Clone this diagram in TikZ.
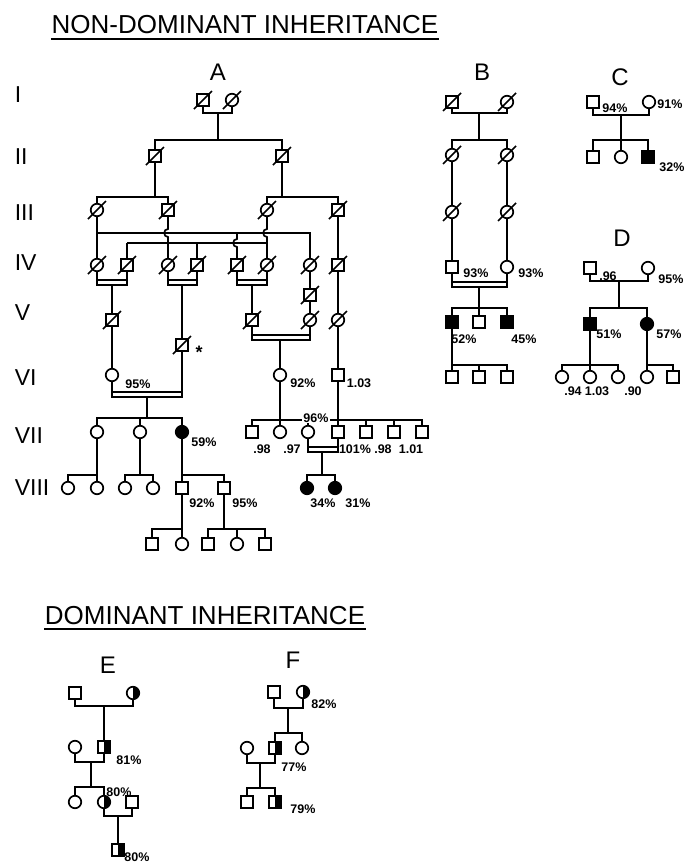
\documentclass[tikz,border=0pt]{standalone}
\usepackage{fontspec}
\setmainfont{Liberation Sans}
\usepackage{tikz}

\begin{document}
\begin{tikzpicture}[x=1pt, y=-1pt, line width=1.7pt,
    male/.style={draw, rectangle, minimum size=12.5pt, inner sep=0pt},
    female/.style={draw, circle, minimum size=12.5pt, inner sep=0pt},
    aff/.style={fill=black},
    half/.style={path picture={\fill (path picture bounding box.north) rectangle (path picture bounding box.south east);}},
    dead/.style={append after command={([shift={(-9,9)}]\tikzlastnode.center) edge ([shift={(9,-9)}]\tikzlastnode.center)}},
    lbl/.style={font=\fontsize{12.5}{12.5}\selectfont\bfseries, inner sep=0pt},
    gen/.style={font=\fontsize{23}{23}\selectfont, anchor=west, inner sep=0pt},
    ped/.style={font=\fontsize{24}{24}\selectfont, inner sep=0pt},
    ttl/.style={font=\fontsize{26}{26}\selectfont, anchor=base, inner sep=0pt}]
        \useasboundingbox (0,0) rectangle (687,865);

        % titles
        \node[ttl] (nd) at (245,33) {NON-DOMINANT INHERITANCE};
        \draw[line width=1.3pt] ([yshift=-6pt]nd.base west) -- ([yshift=-6pt]nd.base east);
        \node[ttl] (dom) at (205,624) {DOMINANT INHERITANCE};
        \draw[line width=1.3pt] ([yshift=-5pt]dom.base west) -- ([yshift=-5pt]dom.base east);

        % generations
        \node[gen] (g1) at (14,95) {I};
        \node[gen] (g2) at (14,157) {II};
        \node[gen] (g3) at (14,213) {III};
        \node[gen] (g4) at (14,263) {IV};
        \node[gen] (g5) at (14,313) {V};
        \node[gen] (g6) at (14,378) {VI};
        \node[gen] (g7) at (14,436) {VII};
        \node[gen] (g8) at (14,488) {VIII};

        % pedigree A
        \node[ped] (lA) at (218,72) {A};
        \node[male,dead] (A1m) at (203,100) {};
        \node[female,dead] (A1f) at (232,100) {};
        \node[male,dead] (A2a) at (155,156) {};
        \node[male,dead] (A2b) at (282,156) {};
        \node[female,dead] (A3a) at (97,210) {};
        \node[male,dead] (A3b) at (168,210) {};
        \node[female,dead] (A3c) at (267,210) {};
        \node[male,dead] (A3d) at (338,210) {};
        \node[female,dead] (A4a) at (97,265) {};
        \node[male,dead] (A4b) at (127,265) {};
        \node[female,dead] (A4c) at (168,265) {};
        \node[male,dead] (A4d) at (197,265) {};
        \node[male,dead] (A4e) at (237,265) {};
        \node[female,dead] (A4f) at (267,265) {};
        \node[female,dead] (A4g) at (310,265) {};
        \node[male,dead] (A4h) at (338,265) {};
        \node[male,dead] (A4i) at (310,295) {};
        \node[male,dead] (A5a) at (112,320) {};
        \node[male,dead] (A5b) at (182,345) {};
        \node[male,dead] (A5c) at (252,320) {};
        \node[female,dead] (A5d) at (310,320) {};
        \node[female,dead] (A5e) at (338,320) {};
        \node[female] (A6a) at (112,375) {};
        \node[female] (A6b) at (280,375) {};
        \node[male] (A6c) at (338,375) {};
        \node[female] (A7a) at (97,432) {};
        \node[female] (A7b) at (140,432) {};
        \node[female,aff] (A7c) at (182,432) {};
        \node[male] (A7d) at (252,432) {};
        \node[female] (A7e) at (280,432) {};
        \node[female] (A7f) at (308,432) {};
        \node[male] (A7g) at (338,432) {};
        \node[male] (A7h) at (366,432) {};
        \node[male] (A7i) at (394,432) {};
        \node[male] (A7j) at (422,432) {};
        \node[female] (A8a) at (68,488) {};
        \node[female] (A8b) at (97,488) {};
        \node[female] (A8c) at (125,488) {};
        \node[female] (A8d) at (153,488) {};
        \node[male] (A8e) at (182,488) {};
        \node[male] (A8f) at (224,488) {};
        \node[female,aff] (A8g) at (307,488) {};
        \node[female,aff] (A8h) at (335,488) {};
        \node[male] (A9a) at (152,544) {};
        \node[female] (A9b) at (182,544) {};
        \node[male] (A9c) at (208,544) {};
        \node[female] (A9d) at (237,544) {};
        \node[male] (A9e) at (265,544) {};

        \draw (A1m.south) |- (218,113) -| (A1f.south);
        \draw (218,113) -- (218,140);
        \draw (A2a.north) |- (218,140) -| (A2b.north);
        \draw (A2a.south) -- (155,197);
        \draw (A3a.north) |- (155,197) -| (A3b.north);
        \draw (A2b.south) -- (282,197);
        \draw (A3c.north) |- (282,197) -| (A3d.north);

        % crossing lines III-IV
        \draw (A3a.south) -- (A4a.north);
        \draw (97,233) -- (310,233) -- (A4g.north);
        \draw (127,243) -- (267,243);
        \draw (A4b.north) -- (127,243);
        \draw (A4d.north) -- (197,243);
        \draw (A3b.south) -- (168,229) .. controls (163,229) and (163,237) .. (168,237) -- (A4c.north);
        \draw (A3c.south) -- (267,229) .. controls (262,229) and (262,237) .. (267,237) -- (A4f.north);
        \draw (237,233) -- (237,239) .. controls (232,239) and (232,247) .. (237,247) -- (A4e.north);
        \draw (A3d.south) -- (A4h.north);

        \draw (A4a.south) |- (112,285) -| (A4b.south);
        \draw (97,280) -- (127,280);
        \draw (112,285) -- (A5a.north);
        \draw (A4c.south) |- (182,285) -| (A4d.south);
        \draw (168,280) -- (197,280);
        \draw (182,285) -- (A5b.north);
        \draw (A4e.south) |- (252,285) -| (A4f.south);
        \draw (237,280) -- (267,280);
        \draw (252,285) -- (A5c.north);
        \draw (A4g.south) -- (A4i.north);
        \draw (A4i.south) -- (A5d.north);
        \draw (A4h.south) -- (A5e.north);

        \draw (A5a.south) -- (A6a.north);
        \draw (A6a.south) |- (147,397) -| (A5b.south);
        \draw (112,392) -- (182,392);
        \draw (147,397) -- (147,418);
        \draw (A7a.north) |- (147,418) -| (A7c.north);
        \draw (A7b.north) -- (140,418);
        \draw (A5c.south) |- (280,340) -| (A5d.south);
        \draw (252,335) -- (310,335);
        \draw (280,340) -- (A6b.north);
        \draw (A5e.south) -- (A6c.north);

        \coordinate (s7) at (0,420);
        \draw (A6b.south) -- (A7e.north);
        \draw (A6c.south) -- (A7g.north);
        \draw (A7d.north) |- (280,420) -| (A7j.north);
        \foreach \k in {f,h,i}
            \draw (A7\k.north) -- (A7\k.north |- s7);

        \draw (A7a.south) -- (A8b.north);
        \draw (A8a.north) |- (97,475);
        \draw (A7b.south) -- (140,475);
        \draw (A8c.north) |- (140,475) -| (A8d.north);
        \draw (A7c.south) -- (A8e.north);
        \draw (182,475) -| (A8f.north);
        \draw (A7f.south) |- (322,452) -| (A7g.south);
        \draw (308,447) -- (338,447);
        \draw (322,452) -- (322,475);
        \draw (A8g.north) |- (322,475) -| (A8h.north);

        \draw (A8e.south) -- (A9b.north);
        \draw (A9a.north) |- (182,529);
        \draw (A8f.south) -- (224,529);
        \draw (A9c.north) |- (224,529) -| (A9e.north);
        \draw (A9d.north) -- (237,529);

        \node[lbl] at (138,384) {95\%};
        \node[font=\fontsize{18}{18}\selectfont\bfseries, inner sep=0pt] at (199,352) {*};
        \node[lbl] at (303,383) {92\%};
        \node[lbl] at (359,383) {1.03};
        \node[lbl] at (204,442) {59\%};
        \node[lbl, fill=white, inner sep=1pt] at (316,418) {96\%};
        \node[lbl] at (262,449) {.98};
        \node[lbl] at (292,449) {.97};
        \node[lbl] at (355,449) {101\%};
        \node[lbl] at (383,449) {.98};
        \node[lbl] at (411,449) {1.01};
        \node[lbl] at (202,503) {92\%};
        \node[lbl] at (245,503) {95\%};
        \node[lbl] at (323,503) {34\%};
        \node[lbl] at (358,503) {31\%};

        % pedigree B
        \node[ped] (lB) at (482,72) {B};
        \node[male,dead] (B1m) at (452,102) {};
        \node[female,dead] (B1f) at (507,102) {};
        \node[female,dead] (B2a) at (452,155) {};
        \node[female,dead] (B2b) at (507,155) {};
        \node[female,dead] (B3a) at (452,212) {};
        \node[female,dead] (B3b) at (507,212) {};
        \node[male] (B4m) at (452,267) {};
        \node[female] (B4f) at (507,267) {};
        \node[male,aff] (B5a) at (452,322) {};
        \node[male] (B5b) at (479,322) {};
        \node[male,aff] (B5c) at (507,322) {};
        \node[male] (B6a) at (452,377) {};
        \node[male] (B6b) at (479,377) {};
        \node[male] (B6c) at (507,377) {};

        \draw (B1m.south) |- (479,113) -| (B1f.south);
        \draw (479,113) -- (479,140);
        \draw (B2a.north) |- (479,140) -| (B2b.north);
        \draw (B2a.south) -- (B3a.north);
        \draw (B3a.south) -- (B4m.north);
        \draw (B2b.south) -- (B3b.north);
        \draw (B3b.south) -- (B4f.north);
        \draw (B4m.south) |- (479,287) -| (B4f.south);
        \draw (452,282) -- (507,282);
        \draw (479,287) -- (B5b.north);
        \draw (B5a.north) |- (479,308) -| (B5c.north);
        \draw (B5a.south) -- (B6a.north);
        \draw (452,365) -| (B6c.north);
        \draw (B6b.north) -- (479,365);

        \node[lbl] at (476,273) {93\%};
        \node[lbl] at (531,273) {93\%};
        \node[lbl] at (464,339) {52\%};
        \node[lbl] at (524,339) {45\%};

        % pedigree C
        \node[ped] (lC) at (620,77) {C};
        \node[male] (C1m) at (593,102) {};
        \node[female] (C1f) at (649,102) {};
        \node[male] (C2a) at (593,157) {};
        \node[female] (C2b) at (621,157) {};
        \node[male,aff] (C2c) at (648,157) {};
        \draw (C1m.south) |- (621,115) -| (C1f.south);
        \draw (621,115) -- (C2b.north);
        \draw (C2a.north) |- (621,140) -| (C2c.north);
        \node[lbl] at (615,108) {94\%};
        \node[lbl] at (670,104) {91\%};
        \node[lbl] at (672,167) {32\%};

        % pedigree D
        \node[ped] (lD) at (622,238) {D};
        \node[male] (D1m) at (590,268) {};
        \node[female] (D1f) at (648,268) {};
        \node[male,aff] (D2m) at (590,324) {};
        \node[female,aff] (D2f) at (647,324) {};
        \node[female] (D3a) at (562,377) {};
        \node[female] (D3b) at (590,377) {};
        \node[female] (D3c) at (618,377) {};
        \node[female] (D3d) at (647,377) {};
        \node[male] (D3e) at (673,377) {};
        \draw (D1m.south) |- (619,281) -| (D1f.south);
        \draw (619,281) -- (619,308);
        \draw (D2m.north) |- (619,308) -| (D2f.north);
        \draw (D2m.south) -- (D3b.north);
        \draw (D3a.north) |- (590,365) -| (D3c.north);
        \draw (D2f.south) -- (D3d.north);
        \draw (647,365) -| (D3e.north);
        \node[lbl] at (608,276) {.96};
        \node[lbl] at (671,279) {95\%};
        \node[lbl] at (609,334) {51\%};
        \node[lbl] at (669,334) {57\%};
        \node[lbl] at (573,391) {.94};
        \node[lbl] at (597,391) {1.03};
        \node[lbl] at (633,391) {.90};

        % pedigree E
        \node[ped] (lE) at (108,665) {E};
        \node[male] (E1m) at (75,693) {};
        \node[female,half] (E1f) at (133,693) {};
        \node[female] (E2f) at (75,747) {};
        \node[male,half] (E2m) at (104,747) {};
        \node[female] (E3a) at (75,802) {};
        \node[female,half] (E3b) at (104,802) {};
        \node[male] (E3m) at (132,802) {};
        \node[male,half] (E4) at (118,850) {};
        \draw (E1m.south) |- (104,706) -| (E1f.south);
        \draw (104,706) -- (E2m.north);
        \draw (E2f.south) |- (91,762) -| (E2m.south);
        \draw (91,762) -- (91,787);
        \draw (E3a.north) |- (91,787) -| (E3b.north);
        \draw (E3b.south) |- (118,816) -| (E3m.south);
        \draw (118,816) -- (E4.north);
        \node[lbl] at (129,760) {81\%};
        \node[lbl] at (119,792) {80\%};
        \node[lbl] at (137,857) {80\%};

        % pedigree F
        \node[ped] (lF) at (293,660) {F};
        \node[male] (F1m) at (274,692) {};
        \node[female,half] (F1f) at (303,692) {};
        \node[female] (F2s) at (247,748) {};
        \node[male,half] (F2m) at (275,748) {};
        \node[female] (F2f) at (302,748) {};
        \node[male] (F3a) at (247,802) {};
        \node[male,half] (F3b) at (275,802) {};
        \draw (F1m.south) |- (288,708) -| (F1f.south);
        \draw (288,708) -- (288,733);
        \draw (F2m.north) |- (288,733) -| (F2f.north);
        \draw (F2s.south) |- (260,763) -| (F2m.south);
        \draw (260,763) -- (260,788);
        \draw (F3a.north) |- (260,788) -| (F3b.north);
        \node[lbl] at (324,704) {82\%};
        \node[lbl] at (294,767) {77\%};
        \node[lbl] at (303,809) {79\%};

    \end{tikzpicture}
\end{document}
